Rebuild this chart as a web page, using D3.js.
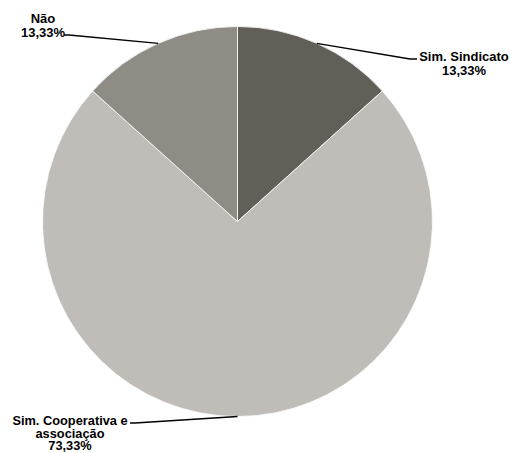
<!DOCTYPE html>
<html>
<head>
<meta charset="utf-8">
<script src="https://cdn.jsdelivr.net/npm/d3@7"></script>
<style>
  html, body { margin: 0; padding: 0; background: #fff; }
  svg { display: block; }
  text { font-family: "Liberation Sans", Arial, sans-serif; font-weight: bold; font-size: 13px; fill: #000; }
</style>
</head>
<body>
<svg id="chart" width="510" height="453"></svg>
<script>
// Data
const categories = ["Sim. Sindicato", "Sim. Cooperativa e associação", "Não"];
const values = [13.33, 73.34, 13.33];
const valueLabels = ["13,33%", "73,33%", "13,33%"];
const labelLines = [["Sim. Sindicato"], ["Sim. Cooperativa e", "associação"], ["Não"]];
const colors = ["#625e58", "#c0bdb8", "#8f8c86"];

const svg = d3.select("#chart");
const cx = 237.5, cy = 221.5, r = 195;

// label layout (anchor point for leader line end + text center)
const layout = [
  { elbow: [410, 59], end: [417, 59], tx: 464, ty: 61, lh: 14, fs: 13 },
  { elbow: [135, 423], end: [130, 423], tx: 70, ty: 425, lh: 12.6, fs: 12.8 },
  { elbow: [69, 35], end: [64, 35], tx: 43, ty: 23, lh: 14, fs: 13 }
];

const pie = d3.pie().sort(null).value(d => d)(values);
const arc = d3.arc().innerRadius(0).outerRadius(r);
const edge = d3.arc().innerRadius(r).outerRadius(r);

const g = svg.append("g").attr("transform", `translate(${cx},${cy})`);
g.selectAll("path.slice").data(pie).join("path")
  .attr("class", "slice")
  .attr("d", arc)
  .attr("fill", (d, i) => colors[i])
  .attr("stroke", "#ffffff")
  .attr("stroke-width", 0.8);

// leader lines and labels
pie.forEach((d, i) => {
  const c = edge.centroid(d);
  const L = layout[i];
  const pts = [[cx + c[0], cy + c[1]], L.elbow, L.end];
  svg.append("path")
    .attr("d", d3.line()(pts))
    .attr("fill", "none")
    .attr("stroke", "#000")
    .attr("stroke-width", 1.4);
  const lines = labelLines[i].concat([valueLabels[i]]);
  const t = svg.append("text").attr("text-anchor", "middle").style("font-size", L.fs + "px");
  lines.forEach((s, k) => {
    t.append("tspan").attr("x", L.tx).attr("y", L.ty + k * L.lh).text(s);
  });
});
</script>
</body>
</html>
